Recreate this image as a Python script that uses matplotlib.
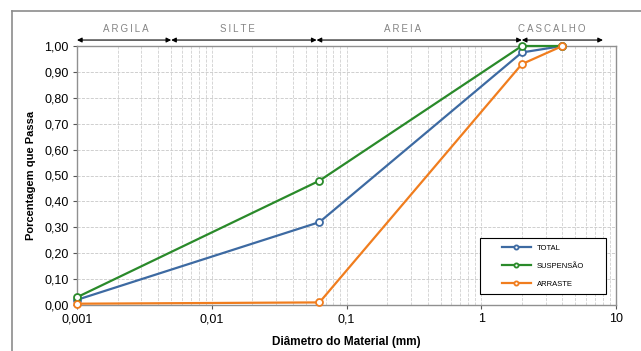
import matplotlib.pyplot as plt
from matplotlib.lines import Line2D
from matplotlib.patches import Rectangle

plt.rcParams['font.family'] = ['Liberation Sans', 'DejaVu Sans']

# data
diam = [0.001, 0.063, 2.0, 4.0]
total = [0.02, 0.32, 0.975, 1.0]
suspensao = [0.03, 0.48, 1.0, 1.0]
arraste = [0.005, 0.01, 0.93, 1.0]

zones = ['ARGILA', 'SILTE', 'AREIA', 'CASCALHO']
zone_lims = [(0.001, 0.005), (0.005, 0.06), (0.06, 2.0), (2.0, 8.0)]
zone_label_x = [0.0023, 0.0155, 0.26, 3.35]

yticks = [i / 10 for i in range(11)]
xticks = [0.001, 0.01, 0.1, 1, 10]
xtick_labels = ['0,001', '0,01', '0,1', '1', '10']

fig = plt.figure(figsize=(6.41, 3.51), dpi=100)
ax = fig.add_axes([77 / 641, 1 - 305 / 351, 539 / 641, 259 / 351])

# outer frame (top and left edges visible)
fig.add_artist(Line2D([12 / 641, 1], [1 - 11 / 351] * 2, color='#8c8c8c', lw=1.2))
fig.add_artist(Line2D([12 / 641] * 2, [0, 1 - 11 / 351], color='#8c8c8c', lw=1.2))

colors = {'TOTAL': '#3d6aa2', 'SUSPENSÃO': '#2a8a2a', 'ARRASTE': '#f07d1e'}
for name, vals in [('TOTAL', total), ('SUSPENSÃO', suspensao), ('ARRASTE', arraste)]:
    ax.plot(diam, vals, color=colors[name], lw=1.6, marker='o', ms=5,
            mfc='white', mec=colors[name], mew=1.3, label=name, clip_on=False, zorder=3)

ax.set_xscale('log')
ax.set_xlim(0.001, 10)
ax.set_ylim(0, 1)
ax.set_yticks(yticks)
ax.set_yticklabels([f'{v:.2f}'.replace('.', ',') for v in yticks], fontsize=9)
ax.set_xticks(xticks)
ax.set_xticklabels(xtick_labels, fontsize=9)
ax.tick_params(axis='both', which='major', length=3, color='#555555', pad=3)
ax.tick_params(axis='x', which='minor', length=0)
ax.grid(True, which='major', axis='y', color='#c8c8c8', ls='--', lw=0.6)
ax.grid(True, which='both', axis='x', color='#d0d0d0', ls='--', lw=0.6)
for s in ax.spines.values():
    s.set_color('#909090')
    s.set_linewidth(1.0)

ax.set_xlabel('Diâmetro do Material (mm)', fontsize=8.5, fontweight='bold', labelpad=8)
ax.set_ylabel('Porcentagem que Passa', fontsize=8, fontweight='bold', labelpad=6)

# soil class arrows and labels above the plot
for name, (a, b), lx in zip(zones, zone_lims, zone_label_x):
    ax.annotate('', xy=(a, 1.023), xytext=(b, 1.023), xycoords=('data', 'axes fraction'),
                arrowprops=dict(arrowstyle='<|-|>', color='black', lw=0.8,
                                mutation_scale=7, shrinkA=0, shrinkB=0))
    ax.text(lx, 1.065, '\u2009'.join(name), transform=ax.get_xaxis_transform(),
            ha='center', va='center', fontsize=7, color='#858585')

# legend box drawn separately, entries placed inside it
box = Rectangle((403 / 539, 11 / 259), 126 / 539, 56 / 259, transform=ax.transAxes,
                facecolor='white', edgecolor='black', lw=0.8, zorder=5)
ax.add_patch(box)
leg = ax.legend(loc='center', bbox_to_anchor=((403 + 63) / 539, 39 / 259), fontsize=5.5,
                frameon=False, borderaxespad=0, labelspacing=1.4, handlelength=3.8,
                markerscale=0.6, borderpad=0, handletextpad=0.8)
leg.set_zorder(6)

fig.savefig('out.png', dpi=100)
